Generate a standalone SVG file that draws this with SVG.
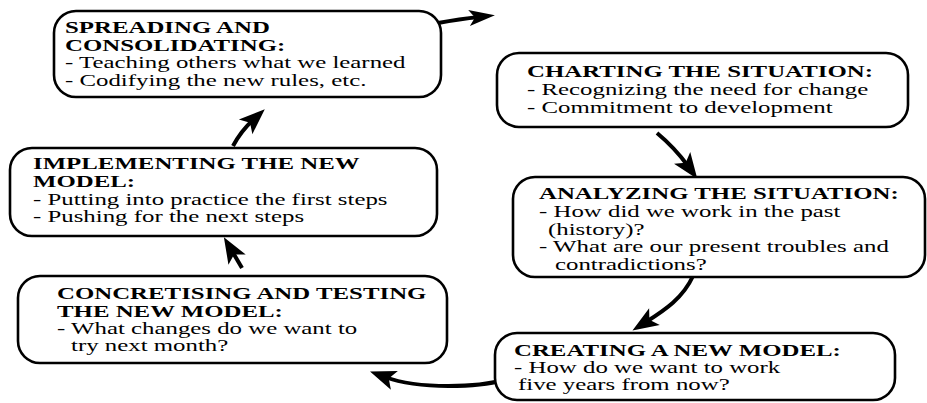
<svg xmlns="http://www.w3.org/2000/svg" width="927" height="403" viewBox="0 0 927 403">
<defs>
<style>
.box{fill:#fff;stroke:#000;stroke-width:2.6}
.t{font-size:16.5px;fill:#000}
.h{font-weight:bold}
.c{fill:none;stroke:#000;stroke-width:4;stroke-linecap:butt}
</style>
<marker id="ah" markerUnits="userSpaceOnUse" markerWidth="26" markerHeight="16" refX="10" refY="8" orient="auto" overflow="visible">
<path d="M0,0 L26,8 L0,16 L6,8 Z" fill="#000"/>
</marker>
<marker id="ah2" markerUnits="userSpaceOnUse" markerWidth="26" markerHeight="20" refX="10" refY="10" orient="auto" overflow="visible">
<path d="M0,0 L26,10 L0,20 L6,10 Z" fill="#000"/>
</marker>
</defs>
<rect width="927" height="403" fill="#fff"/>
<g id="connectors">
<path class="c" marker-end="url(#ah)" d="M438,23 Q460,19 479,17"/>
<path class="c" marker-end="url(#ah2)" d="M657,133 Q675,148 688,166"/>
<path class="c" marker-end="url(#ah2)" d="M693,276 C683,298 665,310 646,322"/>
<path class="c" marker-end="url(#ah2)" d="M503,380 C480,387 420,390 385,377"/>
<path class="c" marker-end="url(#ah2)" d="M242,268 L232,251"/>
<path class="c" marker-end="url(#ah2)" d="M233,146 Q241,131 253,120"/>
</g>
<g font-family="Liberation Serif, Tinos, Times New Roman, DejaVu Serif, serif">
<g id="spreading">
<rect class="box" x="54" y="11" width="387" height="86" rx="22"/>
<text class="t h" transform="translate(65 33) scale(1.506 1)">SPREADING AND</text>
<text class="t h" transform="translate(65 51) scale(1.506 1)">CONSOLIDATING:</text>
<text class="t" transform="translate(65 68) scale(1.506 1)">- Teaching others what we learned</text>
<text class="t" transform="translate(65 85.5) scale(1.506 1)">- Codifying the new rules, etc.</text>
</g>
<g id="charting">
<rect class="box" x="497" y="53" width="411" height="74" rx="22"/>
<text class="t h" transform="translate(527 77) scale(1.506 1)">CHARTING THE SITUATION:</text>
<text class="t" transform="translate(527 95) scale(1.506 1)">- Recognizing the need for change</text>
<text class="t" transform="translate(527 112.5) scale(1.506 1)">- Commitment to development</text>
</g>
<g id="analyzing">
<rect class="box" x="513" y="177" width="412" height="100" rx="22"/>
<text class="t h" transform="translate(539 199) scale(1.506 1)">ANALYZING THE SITUATION:</text>
<text class="t" transform="translate(539 217) scale(1.506 1)">- How did we work in the past</text>
<text class="t" transform="translate(548 234.5) scale(1.506 1)">(history)?</text>
<text class="t" transform="translate(539 252) scale(1.506 1)">- What are our present troubles and</text>
<text class="t" transform="translate(555 269.5) scale(1.506 1)">contradictions?</text>
</g>
<g id="creating">
<rect class="box" x="495" y="333" width="400" height="67" rx="22"/>
<text class="t h" transform="translate(514 356) scale(1.506 1)">CREATING A NEW MODEL:</text>
<text class="t" transform="translate(514 373) scale(1.506 1)">- How do we want to work</text>
<text class="t" transform="translate(518 390) scale(1.506 1)">five years from now?</text>
</g>
<g id="concretising">
<rect class="box" x="18" y="276" width="429" height="87" rx="22"/>
<text class="t h" transform="translate(57 299) scale(1.506 1)">CONCRETISING AND TESTING</text>
<text class="t h" transform="translate(57 317) scale(1.506 1)">THE NEW MODEL:</text>
<text class="t" transform="translate(57 334) scale(1.506 1)">- What changes do we want to</text>
<text class="t" transform="translate(71 351) scale(1.506 1)">try next month?</text>
</g>
<g id="implementing">
<rect class="box" x="10" y="148" width="427" height="88" rx="22"/>
<text class="t h" transform="translate(33 169) scale(1.506 1)">IMPLEMENTING THE NEW</text>
<text class="t h" transform="translate(33 187) scale(1.506 1)">MODEL:</text>
<text class="t" transform="translate(33 205) scale(1.506 1)">- Putting into practice the first steps</text>
<text class="t" transform="translate(33 222) scale(1.506 1)">- Pushing for the next steps</text>
</g>
</g>
</svg>
